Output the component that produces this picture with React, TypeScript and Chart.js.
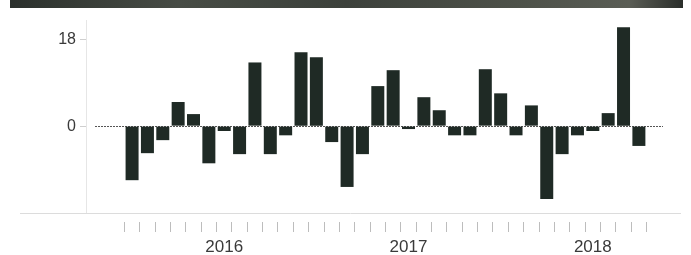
import React, { useEffect, useRef } from "react";
import { Chart, registerables } from "chart.js";

Chart.register(...registerables);

const months: string[] = [
  "2015-12",
  "2016-01", "2016-02", "2016-03", "2016-04", "2016-05", "2016-06",
  "2016-07", "2016-08", "2016-09", "2016-10", "2016-11", "2016-12",
  "2017-01", "2017-02", "2017-03", "2017-04", "2017-05", "2017-06",
  "2017-07", "2017-08", "2017-09", "2017-10", "2017-11", "2017-12",
  "2018-01", "2018-02", "2018-03", "2018-04", "2018-05", "2018-06",
  "2018-07", "2018-08", "2018-09",
];

const values: number[] = [
  -11.2,
  -5.6, -2.9, 5.0, 2.5, -7.7, -1.0, -5.8, 13.2, -5.8, -1.9, 15.3, 14.3,
  -3.3, -12.6, -5.8, 8.3, 11.6, -0.6, 6.0, 3.3, -1.9, -1.9, 11.8, 6.8,
  -1.9, 4.3, -15.1, -5.8, -1.9, -1.0, 2.7, 20.5, -4.1,
];

const yTickValues: number[] = [0, 18];

const barColor = "#1f2a25";
const textColor = "#3a3a3a";

const overlay = {
  id: "overlay",
  beforeDatasetsDraw(chart: any) {
    const { ctx, chartArea } = chart;
    const y0 = chart.scales.y.getPixelForValue(0);
    ctx.save();
    ctx.strokeStyle = "#555";
    ctx.lineWidth = 1;
    ctx.setLineDash([2, 1]);
    ctx.beginPath();
    ctx.moveTo(chartArea.left + 9, Math.round(y0) + 0.5);
    ctx.lineTo(chartArea.right - 2, Math.round(y0) + 0.5);
    ctx.stroke();
    ctx.setLineDash([]);
    ctx.strokeStyle = "#dcdcdc";
    ctx.beginPath();
    ctx.moveTo(20, Math.round(chartArea.bottom) + 0.5);
    ctx.lineTo(chart.width - 10, Math.round(chartArea.bottom) + 0.5);
    ctx.stroke();
    ctx.restore();
  },
};

export default function App() {
  const ref = useRef<HTMLCanvasElement>(null);
  useEffect(() => {
    document.body.style.margin = "0";
    const chart = new Chart(ref.current as HTMLCanvasElement, {
      type: "bar",
      data: {
        datasets: [
          {
            data: values.map((v, i) => ({ x: i, y: v })),
            backgroundColor: barColor,
            borderWidth: 0,
            barPercentage: 0.94,
            categoryPercentage: 0.9,
          },
        ],
      },
      options: {
        animation: false,
        responsive: false,
        maintainAspectRatio: false,
        layout: { padding: { top: 20, right: 26, left: 0, bottom: 0 } },
        plugins: { legend: { display: false }, tooltip: { enabled: false } },
        scales: {
          x: {
            type: "linear",
            offset: false,
            min: -3.0,
            max: 34.7,
            afterBuildTicks: (scale: any) => {
              const t: any[] = [];
              for (let i = 0; i <= months.length; i++) t.push({ value: i - 0.5 });
              months.forEach((m, i) => {
                if (m.endsWith("-06")) t.push({ value: i });
              });
              scale.ticks = t;
            },
            afterFit: (scale: any) => {
              scale.height = 42;
            },
            border: { display: false },
            grid: {
              offset: false,
              drawOnChartArea: false,
              drawTicks: true,
              tickLength: 20,
              tickColor: (c: any) =>
                Number.isInteger(c.tick?.value) ? "rgba(0,0,0,0)" : "#bdbdbd",
              tickBorderDash: [0, 9, 10, 100],
            },
            ticks: {
              autoSkip: false,
              maxRotation: 0,
              padding: 4,
              color: textColor,
              font: { family: "Liberation Sans, Arial, sans-serif", size: 17 },
              callback: (v: any) => {
                if (!Number.isInteger(v)) return "";
                const m = months[v];
                return m && m.endsWith("-06") ? m.slice(0, 4) : "";
              },
            },
          },
          y: {
            min: -18,
            max: 22,
            afterBuildTicks: (scale: any) => {
              scale.ticks = yTickValues.map((v) => ({ value: v }));
            },
            afterFit: (scale: any) => {
              scale.width = 86;
            },
            border: { display: true, color: "#e6e6e6" },
            grid: {
              drawOnChartArea: false,
              drawTicks: true,
              tickLength: 6,
              tickColor: "#cfcfcf",
            },
            ticks: {
              padding: 4,
              color: textColor,
              font: { family: "Liberation Sans, Arial, sans-serif", size: 16 },
            },
          },
        },
      },
      plugins: [overlay],
    });
    return () => chart.destroy();
  }, []);

  return (
    <div style={{ position: "relative", width: 691, height: 255, background: "#fff", overflow: "hidden" }}>
      <div
        style={{
          position: "absolute",
          left: 10,
          top: 0,
          width: 673,
          height: 8,
          background:
            "linear-gradient(90deg, #2b302c 0%, #474c45 25%, #3c413b 50%, #4d5149 75%, #5a5d55 92%, #2a2e2a 100%)",
        }}
      />
      <canvas ref={ref} width={691} height={255} style={{ position: "absolute", left: 0, top: 0 }} />
    </div>
  );
}
